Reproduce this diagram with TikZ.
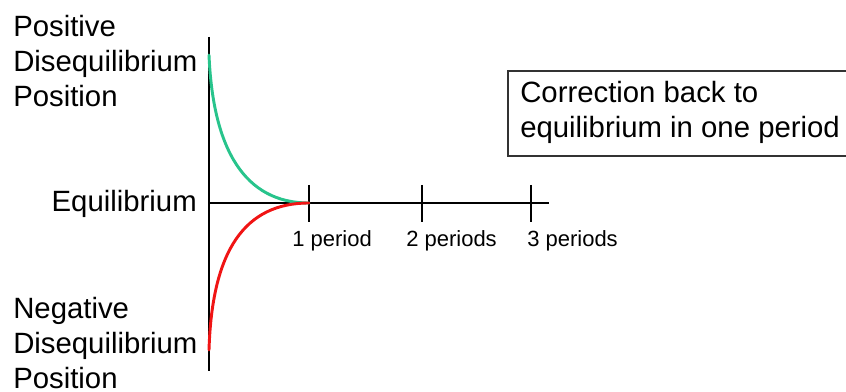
\documentclass[tikz,border=0pt]{standalone}
\usepackage{fontspec}
\setmainfont{Liberation Sans}
\usetikzlibrary{positioning}
\definecolor{posgreen}{RGB}{40,196,140}
\definecolor{negred}{RGB}{240,20,20}
\begin{document}
\begin{tikzpicture}[x=0.75pt, y=-0.75pt, inner sep=0pt,
  lbl/.style={font=\fontsize{22}{26.25}\selectfont, align=left, anchor=base west},
  tlbl/.style={font=\fontsize{16.5}{20}\selectfont, anchor=base west},
  axis/.style={line width=1.1pt},
  adj/.style={line width=2.2pt, line cap=round}]
\useasboundingbox (0,0) rectangle (846,392);
% axes
\coordinate (origin) at (209,203);
\coordinate (ytop) at (209,37);
\coordinate (ybot) at (209,371);
\coordinate (xend) at (549,203);
\draw[axis] (ytop) -- (ybot);
\draw[axis] (origin) -- (xend);
% ticks and period labels
\foreach \x/\lx/\t in {309/292/1 period, 422/406/2 periods, 531/527/3 periods} {
  \draw[axis] (\x,185) -- (\x,222);
  \node[tlbl] (per\x) at (\lx,247) {\t};
}
% axis labels (base = last line)
\node[lbl] (poslbl) at (13,107) {Positive\\Disequilibrium\\Position};
\node[lbl, anchor=base east] (eqlbl) at (197,211) {Equilibrium};
\node[lbl] (neglbl) at (13,388) {Negative\\Disequilibrium\\Position};
% adjustment paths
\coordinate (posstart) at (209,55);
\coordinate (negstart) at (209,350);
\coordinate (meet) at (309,203);
\draw[adj, posgreen] (posstart) .. controls (213,150) and (245,203) .. (meet);
\draw[adj, negred] (negstart) .. controls (212,250) and (245,203) .. (meet);
% note box
\node[lbl] (corr) at (520,138) {Correction back to\\equilibrium in one period};
\draw[line width=1pt, black!80] (508,71) rectangle (870,156);
\end{tikzpicture}
\end{document}
